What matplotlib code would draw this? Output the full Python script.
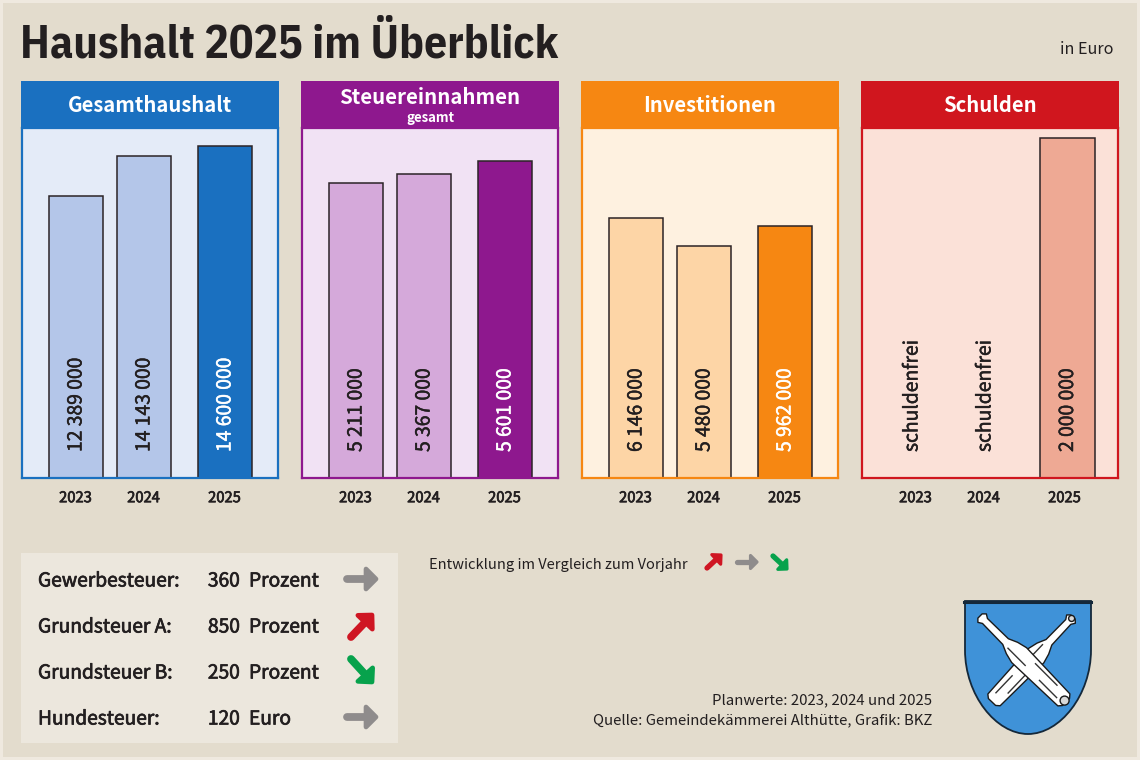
import numpy as np
import matplotlib
matplotlib.use('Agg')
import matplotlib.pyplot as plt
import matplotlib.patheffects as pe
from matplotlib.patches import Rectangle, PathPatch, Polygon, Circle
from matplotlib.path import Path

plt.rcParams['font.family'] = ['Noto Sans CJK SC', 'DejaVu Sans']

# data
years = ['2023', '2024', '2025']
gesamthaushalt = [12389000, 14143000, 14600000]
steuereinnahmen = [5211000, 5367000, 5601000]
investitionen = [6146000, 5480000, 5962000]
schulden = [None, None, 2000000]

panel_titles = ['Gesamthaushalt', 'Steuereinnahmen', 'Investitionen', 'Schulden']
tax_names = ['Gewerbesteuer:', 'Grundsteuer A:', 'Grundsteuer B:', 'Hundesteuer:']
tax_rates = [360, 850, 250, 120]
tax_units = ['Prozent', 'Prozent', 'Prozent', 'Euro']
tax_trend = ['same', 'up', 'down', 'same']

W, H = 1140, 760
INK = '#231f20'
BG = '#e3dccd'
TREND = {'up': '#cf1623', 'same': '#8f8c8c', 'down': '#07a24c'}

tick_x = [54.5, 122.5, 203.5]
panels = [
    (21, gesamthaushalt, 15.39e6, '#1a70c0', '#e4ebf8', '#b4c6e9', '#1a70c0', 'white', tick_x),
    (301, steuereinnahmen, 6.18e6, '#8e188e', '#f1e2f4', '#d5a9da', '#8e188e', 'white', tick_x),
    (581, investitionen, 8.28e6, '#f68712', '#fef1e0', '#fdd5a6', '#f68712', 'white', tick_x),
    (861, schulden, 2.059e6, '#d0161e', '#fbe1d8', '#eea994', '#eea994', INK, [51, 124, 206]),
]


def fmt(v):
    return f'{v:,}'.replace(',', ' ')


def medium(col, w=0.35):
    # no medium cut of the font is installed, thicken the regular a little
    return [pe.withStroke(linewidth=w, foreground=col)]


fig = plt.figure(figsize=(W / 100, H / 100), dpi=100, facecolor='#efe9df')
fig.add_artist(Rectangle((3 / W, 3 / H), (W - 6) / W, (H - 6) / H, transform=fig.transFigure, fc=BG, ec='none', zorder=-5))

# bars, one axes per panel
for left, vals, ymax, col, bg, light, last, last_txt, xs in panels:
    ax = fig.add_axes([(left + 1) / W, (H - 478) / H, 256 / W, 350 / H], facecolor=bg)
    for i, v in enumerate(vals):
        if v is None:
            ax.text(xs[i], 26 / 350 * ymax, 'schuldenfrei', rotation=90, ha='center', va='bottom',
                    fontsize=13.9, color=INK, path_effects=medium(INK))
            continue
        fc = last if i == 2 else light
        tc = last_txt if i == 2 else INK
        ax.bar(xs[i] + 0.5, v, width=54.5, color=fc, edgecolor='#2b2326', linewidth=1.1)
        ax.text(xs[i] + 0.5, 26 / 350 * ymax, fmt(v), rotation=90, ha='center', va='bottom',
                fontsize=13.9, color=tc, path_effects=medium(tc))
    ax.set_xlim(1, 257)
    ax.set_ylim(0, ymax)
    ax.set_yticks([])
    ax.set_xticks(tick_x, years)
    ax.tick_params(axis='x', length=0, pad=9.5, labelsize=10.6, labelcolor=INK)
    for lab in ax.get_xticklabels():
        lab.set_path_effects(medium(INK, 0.5))
    for s in ax.spines.values():
        s.set_color(col)
        s.set_linewidth(1.6)

# everything else in pixel coordinates
ov = fig.add_axes([0, 0, 1, 1], facecolor='none')
ov.set_xlim(0, W)
ov.set_ylim(H, 0)
ov.axis('off')

ov.text(20, 57.5, 'Haushalt 2025 im Überblick', fontsize=32.8, fontweight='bold', color=INK, va='baseline',
        family=['IBM Plex Sans Condensed', 'Noto Sans CJK SC'])
ov.text(1114, 50, 'in Euro', fontsize=11.6, color=INK, ha='right', va='center')

for p, title in zip(panels, panel_titles):
    left, col = p[0], p[3]
    ov.add_patch(Rectangle((left, 81), 258, 47, fc=col, ec='none'))
    cx = left + 129
    if title == 'Steuereinnahmen':
        ov.text(cx, 97, title, fontsize=14.7, fontweight='bold', color='white', ha='center', va='center')
        ov.text(cx, 118, 'gesamt', fontsize=9.5, fontweight='bold', color='white', ha='center', va='center')
    else:
        ov.text(cx, 106, title, fontsize=14.6, fontweight='bold', color='white', ha='center', va='center')


def arrow(x0, y0, x1, y1, col, lw, head):
    # shaft plus a filled head with rounded corners
    d = np.array([x1 - x0, y1 - y0], dtype=float)
    d /= np.hypot(*d)
    n = np.array([-d[1], d[0]])
    tip = np.array([x1, y1], dtype=float)
    back = tip - d * head
    ov.plot([x0, back[0] + d[0] * 2], [y0, back[1] + d[1] * 2], color=col, lw=lw, solid_capstyle='round')
    ov.add_patch(Polygon([tip, back + n * head, back - n * head], closed=True, fc=col, ec=col,
                         lw=lw * 0.6, joinstyle='round'))


# tax box
ov.add_patch(Rectangle((21, 553), 377, 190, fc='#ece7dd', ec='none'))
rows_y = [579, 625, 671, 717]
arrows_big = {'same': (347, 0, 376, 0), 'up': (351, 12, 372, -10), 'down': (351, -12, 372, 11)}
for y, name, rate, unit, trend in zip(rows_y, tax_names, tax_rates, tax_units, tax_trend):
    ov.text(38, y + 2, name, fontsize=13.8, color=INK, va='center', path_effects=medium(INK, 0.5))
    ov.text(240, y + 2, str(rate), fontsize=13.8, color=INK, va='center', ha='right', path_effects=medium(INK, 0.5))
    ov.text(249, y + 2, unit, fontsize=13.8, color=INK, va='center', path_effects=medium(INK, 0.5))
    a = arrows_big[trend]
    arrow(a[0], y + a[1], a[2], y + a[3], TREND[trend], 5.6, 10)

# legend line
ov.text(429, 565, 'Entwicklung im Vergleich zum Vorjahr', fontsize=10.55, color=INK, va='center')
arrow(707, 568, 721, 555, TREND['up'], 3.8, 6.5)
arrow(737, 562, 757, 562, TREND['same'], 3.8, 6.5)
arrow(773, 556, 787, 569, TREND['down'], 3.8, 6.5)

# footer
ov.text(932, 700, 'Planwerte: 2023, 2024 und 2025', fontsize=10.72, color=INK, ha='right', va='center')
ov.text(932, 720, 'Quelle: Gemeindekämmerei Althütte, Grafik: BKZ', fontsize=10.72, color=INK, ha='right', va='center')

# crest
shield = Path(
    [(965, 601), (1091, 601), (1091, 650), (1091, 695), (1060, 734), (1028, 734), (996, 734), (965, 695), (965, 650), (965, 601)],
    [Path.MOVETO, Path.LINETO, Path.LINETO, Path.CURVE4, Path.CURVE4, Path.CURVE4, Path.CURVE4, Path.CURVE4, Path.CURVE4, Path.CLOSEPOLY])
ov.add_patch(PathPatch(shield, fc='#3f92d8', ec='#14283a', lw=1.3))
ov.plot([964, 1091], [601.5, 601.5], color='#14283a', lw=2.2)


def bat(x0, y0, x1, y1, z, end_ring):
    # club outline in (along, across) coordinates
    s = np.array([[0, -3], [3, -6], [7, -3.5], [36, -4], [45, -8], [55, -10.5], [118, -8.5], [121, -5], [121, 5],
                  [118, 8.5], [55, 10.5], [45, 8], [36, 4], [7, 3.5], [3, 6], [0, 3]], dtype=float)
    a = np.array([x0, y0], dtype=float)
    d = np.array([x1 - x0, y1 - y0], dtype=float)
    L = np.hypot(*d)
    d /= L
    n = np.array([-d[1], d[0]])
    pts = [a + d * p[0] * L / 121 + n * p[1] for p in s]
    ov.add_patch(Polygon(pts, closed=True, fc='white', ec='#1a1a1a', lw=1.0, joinstyle='round', zorder=z))
    # shading along the barrel
    for t0, t1, off in [(0.6, 0.85, -5.5), (0.35, 0.55, 3), (0.72, 0.92, 3.5)]:
        p0 = a + d * L * t0 + n * off
        p1 = a + d * L * t1 + n * off
        ov.plot([p0[0], p1[0]], [p0[1], p1[1]], color='#333333', lw=1.0, zorder=z)
    if end_ring:
        ov.add_patch(Circle(a + d * (L - 2), 4.5, fc='#d9d9d9', ec='#1a1a1a', lw=1.0, zorder=z))
    else:
        ov.add_patch(Circle(a + d * 2, 3, fc='#d9d9d9', ec='#1a1a1a', lw=1.0, zorder=z))


bat(1073, 617, 992, 702, 3, False)
bat(980, 616, 1066, 702, 4, True)

fig.savefig('out.png', dpi=100, facecolor=fig.get_facecolor())
